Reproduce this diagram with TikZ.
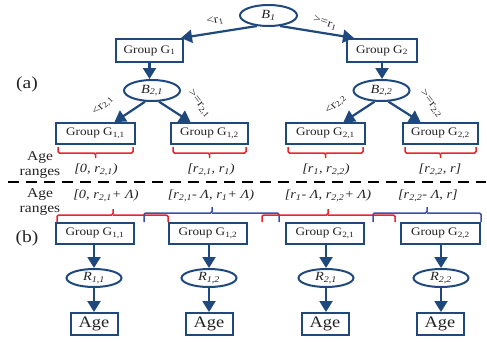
\documentclass[tikz,border=0pt]{standalone}
\usepackage{fontspec}
\setmainfont{Liberation Serif}[FakeStretch=1.15]
\usetikzlibrary{arrows.meta,shapes.geometric,calc}
\definecolor{navy}{RGB}{31,73,125}
\definecolor{bred}{RGB}{232,36,44}
\definecolor{bblue}{RGB}{60,82,165}
\definecolor{txt}{RGB}{35,35,35}
\begin{document}
\begin{tikzpicture}[x=1pt,y=-1pt,
  box/.style={draw=navy, line width=2pt, fill=white, inner sep=0pt, text=txt, font=\fontsize{11.5}{12}\selectfont},
  agebox/.style={box, minimum width=47, minimum height=22, font=\fontsize{16}{17}\selectfont},
  ell/.style={ellipse, draw=navy, line width=2pt, fill=white, inner sep=0pt, text=txt, font=\fontsize{12.5}{13}\selectfont\itshape},
  arr/.style={draw=navy, line width=2.2pt, -{Triangle[width=13pt,length=11pt]}},
  elab/.style={text=txt, font=\fontsize{11.5}{12}\selectfont, inner sep=0pt},
  rng/.style={text=txt, font=\fontsize{12.5}{13}\selectfont\itshape},
  agerng/.style={text=txt, align=center, font=\fontsize{13.5}{14.5}\selectfont},
  panel/.style={text=txt, font=\fontsize{17}{18}\selectfont},
  redbr/.style={draw=bred, line width=1.5pt, rounded corners=1.5pt},
  bluebr/.style={draw=bblue, line width=1.5pt, rounded corners=1.5pt},
  divider/.style={draw=black, line width=2pt, dash pattern=on 11pt off 7pt}
]
\useasboundingbox (0,0) rectangle (487,341);

% ---------- (a) tree ----------
\node[ell, minimum width=57, minimum height=21] (B1) at (268.5,15.5) {B\textsubscript{1}};
\node[box, minimum width=67, minimum height=23] (G1) at (149.5,50.5) {Group G\textsubscript{1}};
\node[box, minimum width=70, minimum height=23] (G2) at (382,50.5) {Group G\textsubscript{2}};
\node[ell, minimum width=56, minimum height=21] (B21) at (152,90.5) {B\textsubscript{2,1}};
\node[ell, minimum width=56, minimum height=21] (B22) at (381.5,90.5) {B\textsubscript{2,2}};

\node[box, minimum width=79, minimum height=21] (G11a) at (95.5,133.5) {Group G\textsubscript{1,1}};
\node[box, minimum width=77, minimum height=21] (G12a) at (209.5,133.5) {Group G\textsubscript{1,2}};
\node[box, minimum width=79, minimum height=21] (G21a) at (325.5,133.5) {Group G\textsubscript{2,1}};
\node[box, minimum width=75, minimum height=21] (G22a) at (440.5,133.5) {Group G\textsubscript{2,2}};

\draw[arr] (B1.222) -- ($(G1.north east)+(-3,0)$);
\draw[arr] (B1.-42) -- ($(G2.north west)+(8,0)$);
\draw[arr] (G1.south) -- (G1.south |- B21.north);
\draw[arr] (G2.south) -- (G2.south |- B22.north);
\draw[arr] (B21.238) -- ($(G11a.north)+(19,0)$);
\draw[arr] (B21.-58) -- ($(G12a.north)+(-19,0)$);
\draw[arr] (B22.238) -- ($(G21a.north)+(18,0)$);
\draw[arr] (B22.-58) -- ($(G22a.north)+(-20,0)$);

\node[elab, rotate=10] (l1) at (215,21) {<r\textsubscript{1}};
\node[elab, rotate=-17] (l2) at (325,23) {>=r\textsubscript{1}};
\node[elab, rotate=45] (l21) at (103,106) {<r\textsubscript{2,1}};
\node[elab, rotate=-52] (l22) at (199,104) {>=r\textsubscript{2,1}};
\node[elab, rotate=45] (l23) at (336,105) {<r\textsubscript{2,2}};
\node[elab, rotate=-52] (l24) at (431,104) {>=r\textsubscript{2,2}};

% braces under (a) boxes
\foreach \n in {G11a,G12a,G21a,G22a}{
  \draw[redbr] ($(\n.south west)+(3,2)$) |- ($(\n.south)+(0,8)$) -- ($(\n.south)+(0,13)$);
  \draw[redbr] ($(\n.south)+(0,8)$) -| ($(\n.south east)+(-3,2)$);
}
\node[rng] (ra1) at (96,170) {[0, r\textsubscript{2,1})};
\node[rng] (ra2) at (211,170) {[r\textsubscript{2,1}, r\textsubscript{1})};
\node[rng] (ra3) at (326,170) {[r\textsubscript{1}, r\textsubscript{2,2})};
\node[rng] (ra4) at (440,170) {[r\textsubscript{2,2}, r]};

\node[agerng] (ar1) at (40,165) {Age\\ranges};
\node[panel] (pa) at (27,84) {(a)};

% divider
\coordinate (dashL) at (8,182);
\coordinate (dashR) at (486,182);
\draw[divider] (dashL) -- (dashR);

% ---------- (b) ----------
\node[agerng] (ar2) at (40,202) {Age\\ranges};
\node[panel] (pb) at (27,238) {(b)};

\node[rng] (rb1) at (106,196) {[0, r\textsubscript{2,1}+ Λ)};
\node[rng] (rb2) at (211,196) {[r\textsubscript{2,1}- Λ, r\textsubscript{1}+ Λ)};
\node[rng] (rb3) at (328,196) {[r\textsubscript{1}- Λ, r\textsubscript{2,2}+ Λ)};
\node[rng] (rb4) at (428,196) {[r\textsubscript{2,2}- Λ, r]};

% braces above (b) boxes
\draw[redbr] (57,222) |- (113,215) -- (113,209);
\draw[redbr] (113,215) -| (168,222);
\draw[bluebr] (144,222) |- (212,213) -- (212,207);
\draw[bluebr] (212,213) -| (279,222);
\draw[redbr] (262,222) |- (328,215) -- (328,209);
\draw[redbr] (328,215) -| (395,222);
\draw[bluebr] (373,222) |- (427,213) -- (427,207);
\draw[bluebr] (427,213) -| (481,222);

\node[box, minimum width=78, minimum height=21] (G11b) at (95,233.5) {Group G\textsubscript{1,1}};
\node[box, minimum width=78, minimum height=21] (G12b) at (208,233.5) {Group G\textsubscript{1,2}};
\node[box, minimum width=78, minimum height=21] (G21b) at (325,233.5) {Group G\textsubscript{2,1}};
\node[box, minimum width=79, minimum height=21] (G22b) at (440.5,233.5) {Group G\textsubscript{2,2}};

\node[ell, minimum width=55, minimum height=18] (R11) at (94,278) {R\textsubscript{1,1}};
\node[ell, minimum width=55, minimum height=18] (R12) at (209,278) {R\textsubscript{1,2}};
\node[ell, minimum width=55, minimum height=18] (R21) at (326,278) {R\textsubscript{2,1}};
\node[ell, minimum width=55, minimum height=18] (R22) at (441,278) {R\textsubscript{2,2}};

\node[agebox] (A1) at (94,324) {Age};
\node[agebox] (A2) at (209,324) {Age};
\node[agebox] (A3) at (325,324) {Age};
\node[agebox] (A4) at (440,324) {Age};

\foreach \g/\r/\a in {G11b/R11/A1, G12b/R12/A2, G21b/R21/A3, G22b/R22/A4}{
  \draw[arr] (\r.north |- \g.south) -- (\r.north);
  \draw[arr] (\r.south) -- (\r.south |- \a.north);
}
\end{tikzpicture}
\end{document}
